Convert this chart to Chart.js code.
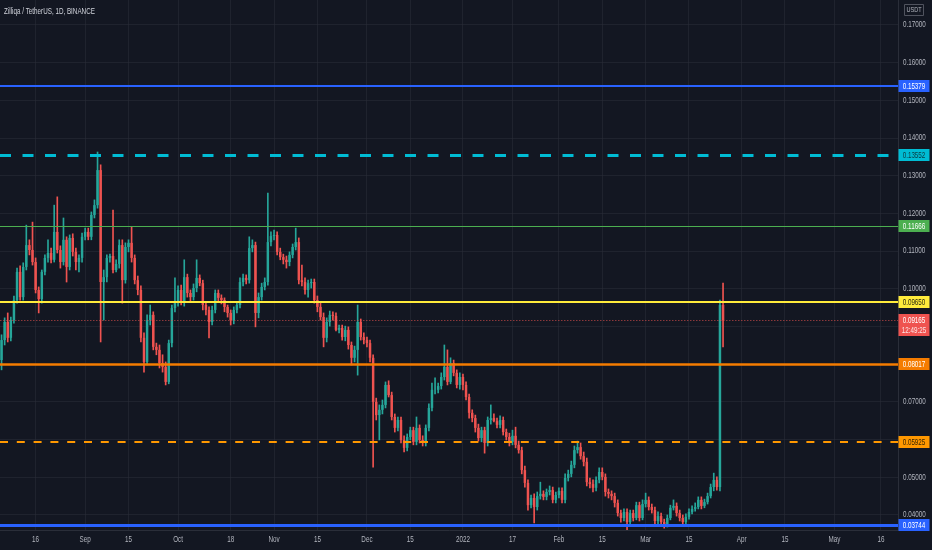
<!DOCTYPE html>
<html><head><meta charset="utf-8">
<script src="https://cdn.jsdelivr.net/npm/chart.js@4.4.1/dist/chart.umd.min.js"></script>
<style>html,body{margin:0;padding:0;background:#131722;overflow:hidden}#wrap{width:932px;height:550px;position:relative}canvas{display:block}</style>
</head><body><div id="wrap"><canvas id="c" width="932" height="550"></canvas></div>
<script>
// ---------- data ----------
const startDate = '2021-08-05';
const dayCount = 290;
const openP = [
0.0811,0.0864,0.0912,0.0870,0.0917,0.0970,0.1045,0.0978,0.1058,0.1116,
0.1103,0.1071,0.0997,0.0973,0.1045,0.1082,0.1095,0.1077,0.1151,0.1103,
0.1071,0.1130,0.1058,0.1135,0.1098,0.1071,0.1082,0.1138,0.1151,0.1138,
0.1196,0.1222,0.1315,0.1018,0.1031,0.1082,0.1087,0.1050,0.1066,0.1116,
0.1023,0.1111,0.1122,0.1082,0.1023,0.0997,0.0870,0.0806,0.0917,0.0931,
0.0846,0.0838,0.0803,0.0793,0.0753,0.0856,0.0949,0.0965,0.0997,0.0965,
0.1031,0.0989,0.0978,0.1002,0.1029,0.1015,0.0957,0.0944,0.0912,0.0944,
0.0989,0.0976,0.0970,0.0952,0.0936,0.0917,0.0944,0.0957,0.1018,0.1029,
0.1023,0.1108,0.1116,0.0936,0.0978,0.1005,0.1018,0.1124,0.1140,0.1143,
0.1098,0.1084,0.1077,0.1071,0.1090,0.1111,0.1124,0.1023,0.1018,0.0997,
0.1015,0.1018,0.0970,0.0952,0.0925,0.0870,0.0912,0.0931,0.0928,0.0891,
0.0896,0.0872,0.0891,0.0851,0.0817,0.0838,0.0912,0.0872,0.0864,0.0856,
0.0817,0.0700,0.0665,0.0679,0.0692,0.0745,0.0718,0.0660,0.0631,0.0652,
0.0599,0.0578,0.0607,0.0625,0.0594,0.0631,0.0599,0.0594,0.0631,0.0684,
0.0732,0.0732,0.0742,0.0766,0.0793,0.0753,0.0803,0.0777,0.0745,0.0766,
0.0745,0.0713,0.0671,0.0657,0.0631,0.0604,0.0625,0.0591,0.0652,0.0657,
0.0649,0.0639,0.0652,0.0620,0.0607,0.0594,0.0610,0.0586,0.0572,0.0519,
0.0485,0.0426,0.0445,0.0421,0.0450,0.0456,0.0448,0.0461,0.0466,0.0440,
0.0453,0.0464,0.0440,0.0498,0.0509,0.0533,0.0572,0.0580,0.0556,0.0541,
0.0487,0.0482,0.0472,0.0493,0.0514,0.0501,0.0461,0.0456,0.0450,0.0432,
0.0405,0.0392,0.0408,0.0381,0.0405,0.0392,0.0426,0.0392,0.0429,0.0440,
0.0421,0.0413,0.0384,0.0397,0.0381,0.0373,0.0392,0.0419,0.0424,0.0405,
0.0392,0.0381,0.0395,0.0408,0.0416,0.0421,0.0440,0.0424,0.0434,0.0450,
0.0474,0.0493,0.0474,0.0957];
const highP = [
0.0878,0.0923,0.0936,0.0925,0.0981,0.1055,0.1061,0.1069,0.1169,0.1130,
0.1177,0.1082,0.1005,0.1050,0.1090,0.1130,0.1108,0.1222,0.1244,0.1114,
0.1188,0.1138,0.1143,0.1146,0.1108,0.1090,0.1148,0.1161,0.1161,0.1204,
0.1236,0.1363,0.1329,0.1050,0.1090,0.1092,0.1209,0.1077,0.1130,0.1130,
0.1122,0.1130,0.1164,0.1090,0.1034,0.1008,0.0883,0.0931,0.0957,0.0939,
0.0856,0.0851,0.0825,0.0806,0.0864,0.0957,0.1029,0.1008,0.1010,0.1077,
0.1039,0.0997,0.1013,0.1077,0.1037,0.1023,0.0965,0.0952,0.0954,0.0997,
0.0997,0.0984,0.0976,0.0957,0.0944,0.0952,0.0965,0.1029,0.1039,0.1037,
0.1138,0.1130,0.1124,0.0989,0.1015,0.1029,0.1254,0.1151,0.1156,0.1151,
0.1108,0.1092,0.1087,0.1098,0.1119,0.1161,0.1135,0.1063,0.1029,0.1023,
0.1026,0.1026,0.0981,0.0962,0.0936,0.0923,0.0941,0.0939,0.0936,0.0904,
0.0904,0.0901,0.0899,0.0859,0.0848,0.0957,0.0920,0.0883,0.0872,0.0864,
0.0825,0.0710,0.0692,0.0705,0.0753,0.0756,0.0726,0.0668,0.0660,0.0660,
0.0610,0.0615,0.0633,0.0633,0.0660,0.0639,0.0610,0.0639,0.0695,0.0750,
0.0764,0.0750,0.0777,0.0851,0.0838,0.0817,0.0811,0.0785,0.0777,0.0774,
0.0753,0.0721,0.0679,0.0665,0.0641,0.0633,0.0633,0.0660,0.0692,0.0668,
0.0657,0.0663,0.0660,0.0628,0.0617,0.0625,0.0633,0.0596,0.0580,0.0530,
0.0493,0.0453,0.0456,0.0461,0.0487,0.0464,0.0469,0.0477,0.0474,0.0461,
0.0472,0.0472,0.0509,0.0519,0.0543,0.0583,0.0596,0.0591,0.0567,0.0551,
0.0498,0.0493,0.0501,0.0525,0.0525,0.0509,0.0469,0.0464,0.0458,0.0440,
0.0413,0.0416,0.0416,0.0413,0.0413,0.0434,0.0434,0.0440,0.0458,0.0448,
0.0429,0.0421,0.0408,0.0405,0.0389,0.0400,0.0426,0.0440,0.0432,0.0413,
0.0400,0.0403,0.0416,0.0424,0.0432,0.0448,0.0448,0.0442,0.0458,0.0482,
0.0511,0.0501,0.0970,0.1015];
const lowP = [
0.0785,0.0851,0.0859,0.0862,0.0909,0.0962,0.0970,0.0970,0.1050,0.1090,
0.1063,0.0989,0.0936,0.0962,0.1037,0.1071,0.1069,0.1071,0.1095,0.1055,
0.1063,0.1018,0.1050,0.1087,0.1050,0.1045,0.1071,0.1130,0.1130,0.1130,
0.1188,0.1214,0.0859,0.0917,0.1018,0.1071,0.1042,0.1045,0.1055,0.0962,
0.1015,0.1098,0.1071,0.1013,0.0984,0.0859,0.0779,0.0798,0.0904,0.0838,
0.0825,0.0790,0.0779,0.0745,0.0748,0.0846,0.0939,0.0954,0.0957,0.0954,
0.0978,0.0965,0.0970,0.0992,0.1008,0.0944,0.0931,0.0870,0.0904,0.0936,
0.0968,0.0960,0.0939,0.0925,0.0904,0.0907,0.0936,0.0949,0.1008,0.1013,
0.1015,0.1098,0.0899,0.0923,0.0970,0.0997,0.1010,0.1114,0.1130,0.1090,
0.1077,0.1066,0.1055,0.1061,0.1082,0.1103,0.1013,0.1008,0.0986,0.0978,
0.1002,0.0962,0.0939,0.0917,0.0846,0.0859,0.0901,0.0917,0.0888,0.0883,
0.0864,0.0862,0.0840,0.0798,0.0806,0.0771,0.0864,0.0854,0.0846,0.0806,
0.0527,0.0652,0.0599,0.0668,0.0684,0.0713,0.0652,0.0620,0.0623,0.0591,
0.0567,0.0570,0.0599,0.0586,0.0586,0.0591,0.0583,0.0583,0.0623,0.0676,
0.0721,0.0724,0.0734,0.0758,0.0745,0.0748,0.0769,0.0737,0.0734,0.0732,
0.0705,0.0657,0.0647,0.0620,0.0596,0.0594,0.0564,0.0583,0.0641,0.0647,
0.0631,0.0631,0.0612,0.0599,0.0583,0.0586,0.0578,0.0564,0.0509,0.0474,
0.0413,0.0419,0.0379,0.0413,0.0442,0.0440,0.0440,0.0453,0.0432,0.0432,
0.0445,0.0432,0.0432,0.0490,0.0501,0.0525,0.0564,0.0548,0.0530,0.0477,
0.0472,0.0461,0.0464,0.0485,0.0493,0.0450,0.0445,0.0440,0.0421,0.0397,
0.0381,0.0384,0.0360,0.0373,0.0384,0.0387,0.0384,0.0387,0.0421,0.0413,
0.0405,0.0376,0.0376,0.0373,0.0365,0.0368,0.0387,0.0413,0.0397,0.0384,
0.0373,0.0376,0.0389,0.0403,0.0410,0.0416,0.0416,0.0419,0.0429,0.0445,
0.0464,0.0466,0.0464,0.0846];
const closeP = [
0.0864,0.0912,0.0870,0.0917,0.0970,0.1045,0.0978,0.1058,0.1116,0.1103,
0.1071,0.0997,0.0973,0.1045,0.1082,0.1095,0.1077,0.1151,0.1103,0.1071,
0.1130,0.1058,0.1135,0.1098,0.1071,0.1082,0.1138,0.1151,0.1138,0.1196,
0.1222,0.1315,0.1018,0.1031,0.1082,0.1087,0.1050,0.1066,0.1116,0.1023,
0.1111,0.1122,0.1082,0.1023,0.0997,0.0870,0.0806,0.0917,0.0931,0.0846,
0.0838,0.0803,0.0793,0.0753,0.0856,0.0949,0.0965,0.0997,0.0965,0.1031,
0.0989,0.0978,0.1002,0.1029,0.1015,0.0957,0.0944,0.0912,0.0944,0.0989,
0.0976,0.0970,0.0952,0.0936,0.0917,0.0944,0.0957,0.1018,0.1029,0.1023,
0.1108,0.1116,0.0936,0.0978,0.1005,0.1018,0.1124,0.1140,0.1143,0.1098,
0.1084,0.1077,0.1071,0.1090,0.1111,0.1124,0.1023,0.1018,0.0997,0.1015,
0.1018,0.0970,0.0952,0.0925,0.0870,0.0912,0.0931,0.0928,0.0891,0.0896,
0.0872,0.0891,0.0851,0.0817,0.0838,0.0912,0.0872,0.0864,0.0856,0.0817,
0.0700,0.0665,0.0679,0.0692,0.0745,0.0718,0.0660,0.0631,0.0652,0.0599,
0.0578,0.0607,0.0625,0.0594,0.0631,0.0599,0.0594,0.0631,0.0684,0.0732,
0.0732,0.0742,0.0766,0.0793,0.0753,0.0803,0.0777,0.0745,0.0766,0.0745,
0.0713,0.0671,0.0657,0.0631,0.0604,0.0625,0.0591,0.0652,0.0657,0.0649,
0.0639,0.0652,0.0620,0.0607,0.0594,0.0610,0.0586,0.0572,0.0519,0.0485,
0.0426,0.0445,0.0421,0.0450,0.0456,0.0448,0.0461,0.0466,0.0440,0.0453,
0.0464,0.0440,0.0498,0.0509,0.0533,0.0572,0.0580,0.0556,0.0541,0.0487,
0.0482,0.0472,0.0493,0.0514,0.0501,0.0461,0.0456,0.0450,0.0432,0.0405,
0.0392,0.0408,0.0381,0.0405,0.0392,0.0426,0.0392,0.0429,0.0440,0.0421,
0.0413,0.0384,0.0397,0.0381,0.0373,0.0392,0.0419,0.0424,0.0405,0.0392,
0.0381,0.0395,0.0408,0.0416,0.0421,0.0440,0.0424,0.0434,0.0450,0.0474,
0.0493,0.0474,0.0957,0.09165];

const yTicks = [0.04,0.05,0.06,0.07,0.08,0.09,0.10,0.11,0.12,0.13,0.14,0.15,0.16,0.17];
const xTickDates = ['2021-08-16','2021-09-01','2021-09-15','2021-10-01','2021-10-18','2021-11-01','2021-11-15','2021-12-01','2021-12-15','2022-01-01','2022-01-17','2022-02-01','2022-02-15','2022-03-01','2022-03-15','2022-04-01','2022-04-15','2022-05-01','2022-05-16'];
const xTickNames = ['16','Sep','15','Oct','18','Nov','15','Dec','15','2022','17','Feb','15','Mar','15','Apr','15','May','16'];

const levelPrices = [0.15379,0.13552,0.11666,0.09650,0.08017,0.05925,0.03744];
const lastPrice = 0.09165;
const lastTime = '12:49:25';
const titleText = 'Zilliqa / TetherUS, 1D, BINANCE';
const currencyText = 'USDT';
const yMin = 0.03601, yMax = 0.17663;

// ---------- styles ----------
const levelColors = ['#2962ff','#00bcd4','#4caf50','#ffeb3b','#f57c00','#ff9800','#2962ff'];
const levelTextColors = ['#ffffff','#0b3a40','#ffffff','#2a2a10','#ffffff','#3a2500','#ffffff'];
const levelWidths = [2,3,1,2,2.5,2,3];
const levelDashes = [[],[11,11.5],[],[],[],[8,8.8],[]];
const UP = '#26a69a', DOWN = '#ef5350';
const GRID = 'rgba(42,46,57,0.55)', AXIS = '#2a2e39', TXT = '#b2b5be';
const FONT = '"Liberation Sans",Arial,sans-serif';
const SX = 0.74; // horizontal squeeze to mimic the narrow UI font

// ---------- build ----------
const categories = [];
const t0 = Date.parse(startDate + 'T00:00:00Z');
for (let i = 0; i < dayCount; i++) categories.push(new Date(t0 + i * 86400000).toISOString().slice(0, 10));
const tickIdx = xTickDates.map(d => categories.indexOf(d));
const bodies = closeP.map((c, i) => [openP[i], c]);
const wicks = closeP.map((c, i) => [lowP[i], highP[i]]);
const colors = closeP.map((c, i) => c >= openP[i] ? UP : DOWN);

Chart.defaults.font.family = FONT;

function txt(c, s, x, y, size, color, align) {
  c.save();
  c.font = size + 'px ' + FONT;
  c.fillStyle = color; c.textBaseline = 'middle'; c.textAlign = align;
  c.translate(x, y); c.scale(SX, 1);
  c.fillText(s, 0, 0);
  c.restore();
}
function box(c, x, y, w, h, fill, stroke) {
  c.beginPath(); c.rect(x, y, w, h);
  if (fill) { c.fillStyle = fill; c.fill(); }
  if (stroke) { c.strokeStyle = stroke; c.lineWidth = 1; c.stroke(); }
}

const bgPlugin = {
  id: 'bg',
  beforeDraw(chart) {
    const c = chart.ctx; c.save(); c.fillStyle = '#131722'; c.fillRect(0, 0, chart.width, chart.height); c.restore();
  }
};

const levelPlugin = {
  id: 'levels',
  afterDatasetsDraw(chart) {
    const c = chart.ctx, a = chart.chartArea, y = chart.scales.y;
    c.save();
    const lp = Math.round(y.getPixelForValue(lastPrice)) + 0.5;
    c.strokeStyle = 'rgba(239,83,80,0.55)'; c.lineWidth = 1; c.setLineDash([1.5, 1.5]);
    c.beginPath(); c.moveTo(a.left, lp); c.lineTo(a.right, lp); c.stroke();
    levelPrices.forEach((p, k) => {
      const w = levelWidths[k];
      let py = y.getPixelForValue(p);
      py = Math.round(py) + (Math.round(w) % 2 ? 0.5 : 0);
      c.strokeStyle = levelColors[k]; c.lineWidth = w; c.setLineDash(levelDashes[k]);
      c.beginPath(); c.moveTo(a.left, py); c.lineTo(a.right, py); c.stroke();
    });
    c.restore();
  },
  afterDraw(chart) {
    const c = chart.ctx, a = chart.chartArea, y = chart.scales.y, x = chart.scales.x;
    c.save();
    c.setLineDash([]);
    yTicks.forEach(v => txt(c, v.toFixed(5), a.right + 5, y.getPixelForValue(v), 8.5, TXT, 'left'));
    tickIdx.forEach((ix, k) => txt(c, xTickNames[k], x.getPixelForValue(ix), a.bottom + 10, 8.5, TXT, 'center'));
    txt(c, titleText, 4, 11.5, 8.5, '#d1d4dc', 'left');
    box(c, 904.5, 4.5, 19, 11, null, '#50535e');
    txt(c, currencyText, 914, 10.3, 7.5, '#b2b5be', 'center');
    const bx = a.right + 0.5, bw = 31;
    levelPrices.forEach((p, k) => {
      const py = Math.round(y.getPixelForValue(p));
      box(c, bx, py - 6, bw, 12, levelColors[k]);
      txt(c, p.toFixed(5), bx + bw / 2, py + 0.5, 8.5, levelTextColors[k], 'center');
    });
    const lp = Math.round(y.getPixelForValue(lastPrice));
    box(c, bx, lp - 6, bw, 22, '#ef5350');
    txt(c, lastPrice.toFixed(5), bx + bw / 2, lp + 0.5, 8.5, '#ffffff', 'center');
    txt(c, lastTime, bx + bw / 2, lp + 10.5, 8.5, 'rgba(255,255,255,0.85)', 'center');
    c.restore();
  }
};

new Chart(document.getElementById('c'), {
  type: 'bar',
  data: {
    labels: categories,
    datasets: [
      { data: wicks, backgroundColor: colors, barThickness: 1, grouped: false, order: 2, borderWidth: 0 },
      { data: bodies, backgroundColor: colors, barPercentage: 0.8, categoryPercentage: 1, grouped: false, order: 1, borderWidth: 0 }
    ]
  },
  options: {
    responsive: false,
    animation: false,
    layout: { padding: 0 },
    plugins: { legend: { display: false }, tooltip: { enabled: false } },
    scales: {
      x: {
        offset: true,
        grid: { color: GRID, offset: false, drawTicks: false },
        border: { color: AXIS },
        ticks: { display: false, autoSkip: false, maxRotation: 0 },
        afterBuildTicks: (s) => { s.ticks = tickIdx.map(v => ({ value: v })); },
        afterFit: (s) => { s.height = 20; s.paddingLeft = 0; s.paddingRight = 0; }
      },
      y: {
        position: 'right',
        min: yMin, max: yMax,
        grid: { color: GRID, drawTicks: false },
        border: { color: AXIS },
        ticks: { display: false },
        afterBuildTicks: (s) => { s.ticks = yTicks.map(v => ({ value: v })); },
        afterFit: (s) => { s.width = 34; s.paddingTop = 0; s.paddingBottom = 0; }
      }
    }
  },
  plugins: [bgPlugin, levelPlugin]
});
</script>
</body></html>
